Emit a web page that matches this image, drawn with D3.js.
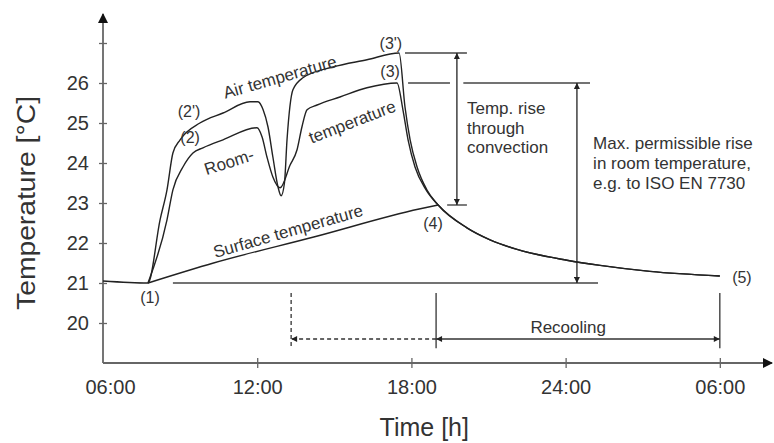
<!DOCTYPE html>
<html>
<head>
<meta charset="utf-8">
<script src="https://cdn.jsdelivr.net/npm/d3@7"></script>
<style>
body{margin:0;background:#fff}
svg{display:block;font-family:"Liberation Sans",Arial,sans-serif}
</style>
</head>
<body>
<div id="container"></div>
<script>
// time in hours (6 = 06:00, 30 = 06:00 next day), temperature in °C
const airTime = [6.0, 7.75, 8.22, 8.49, 8.72, 9.0, 9.77, 10.67, 11.72, 12.03, 12.23, 12.42, 12.61, 12.81, 12.93, 13.06, 13.16, 13.39, 13.78, 14.95, 16.27, 17.52, 17.75, 17.95, 18.22, 18.6, 19.04]
const airTemp = [21.05, 21.0, 22.58, 23.33, 24.25, 24.58, 25.0, 25.25, 25.53, 25.53, 25.33, 24.9, 24.15, 23.4, 23.18, 23.5, 24.58, 25.83, 26.13, 26.4, 26.58, 26.75, 25.4, 24.58, 23.9, 23.33, 22.95]

const roomTime = [7.75, 8.49, 8.72, 9.11, 9.5, 9.89, 10.67, 11.99, 12.19, 12.38, 12.61, 12.89, 13.28, 13.55, 13.74, 13.94, 14.33, 15.22, 16.27, 17.44, 17.67, 17.87, 18.14, 18.57, 19.04]
const roomTemp = [21.0, 22.58, 23.33, 23.9, 24.25, 24.38, 24.58, 24.88, 24.65, 24.15, 23.65, 23.38, 23.95, 24.33, 24.9, 25.33, 25.45, 25.65, 25.88, 26.0, 25.33, 24.58, 23.9, 23.33, 22.95]

const surfaceTime = [7.75, 10.3, 14.2, 18.3, 19.04]
const surfaceTemp = [21.0, 21.5, 22.15, 22.85, 22.95]

const coolTime = [19.04, 20.16, 21.06, 22.11, 24.05, 25.34, 27.28, 30.0]
const coolTemp = [22.95, 22.38, 22.08, 21.84, 21.57, 21.44, 21.29, 21.175]

const yTicks = [20, 21, 22, 23, 24, 25, 26, 27]
const xTicks = [6, 12, 18, 24, 30]
const xTickLabels = ["06:00", "12:00", "18:00", "24:00", "06:00"]

const pointLabels = [
  {text: "(1)", t: 7.83, v: 20.63},
  {text: "(2')", t: 9.35, v: 25.28},
  {text: "(2)", t: 9.39, v: 24.65},
  {text: "(3')", t: 17.2, v: 27.0},
  {text: "(3)", t: 17.17, v: 26.28},
  {text: "(4)", t: 18.84, v: 22.5},
  {text: "(5)", t: 30.86, v: 21.13}
]
const curveLabels = [
  {text: "Air temperature", t: 12.88, v: 26.15, angle: -16},
  {text: "Room-", t: 10.9, v: 24.03, angle: -18},
  {text: "temperature", t: 15.69, v: 25.03, angle: -21},
  {text: "Surface temperature", t: 13.2, v: 22.3, angle: -16}
]

const width = 774
const height = 443

const x = d3.scaleLinear().domain([6, 32.03]).range([103, 772])
const y = d3.scaleLinear().domain([19, 27.575]).range([363, 20])

const svg = d3.select("#container").append("svg")
  .attr("width", width)
  .attr("height", height)

const defs = svg.append("defs")
defs.append("marker")
  .attr("id", "head")
  .attr("viewBox", "0 0 10 10")
  .attr("refX", 10).attr("refY", 5)
  .attr("markerUnits", "userSpaceOnUse")
  .attr("markerWidth", 9).attr("markerHeight", 6)
  .attr("orient", "auto-start-reverse")
  .append("path").attr("d", "M0,0L10,5L0,10z").attr("fill", "#222")
defs.append("marker")
  .attr("id", "axhead")
  .attr("viewBox", "0 0 10 10")
  .attr("refX", 9).attr("refY", 5)
  .attr("markerUnits", "userSpaceOnUse")
  .attr("markerWidth", 13).attr("markerHeight", 10)
  .attr("orient", "auto")
  .append("path").attr("d", "M0,0L10,5L0,10z").attr("fill", "#111")

const ink = "#333"

// axes
const yAxis = svg.append("g")
  .attr("transform", `translate(${x(6)},0)`)
  .call(d3.axisLeft(y).tickValues(yTicks).tickFormat(d => d === 27 ? "" : d).tickSize(4).tickPadding(10))
yAxis.select(".domain").remove()
yAxis.selectAll(".tick line").attr("x1", -4).attr("x2", 4).attr("stroke", "#666").attr("stroke-width", 1.3)
yAxis.selectAll(".tick text").attr("font-size", 20).attr("fill", ink).attr("font-family", "Liberation Sans, Arial, sans-serif")

const xAxis = svg.append("g")
  .attr("transform", `translate(0,${y(19)})`)
  .call(d3.axisBottom(x).tickValues(xTicks).tickFormat((d, i) => xTickLabels[i]).tickSize(5).tickPadding(12))
xAxis.select(".domain").remove()
xAxis.selectAll(".tick line").attr("y1", -5).attr("y2", 5).attr("stroke", "#666").attr("stroke-width", 1.3)
xAxis.selectAll(".tick text").attr("font-size", 20).attr("fill", ink).attr("font-family", "Liberation Sans, Arial, sans-serif")
  .attr("dx", (d, i) => i === 0 ? 7 : 0)
xAxis.selectAll(".tick").filter(d => d === 6).select("line").remove()

svg.append("line")
  .attr("x1", x(6)).attr("y1", y(19)).attr("x2", x(6)).attr("y2", y(27.575) - 6)
  .attr("stroke", "#666").attr("stroke-width", 1.8).attr("marker-end", "url(#axhead)")
svg.append("line")
  .attr("x1", x(6)).attr("y1", y(19)).attr("x2", x(32.03)).attr("y2", y(19))
  .attr("stroke", "#666").attr("stroke-width", 1.8).attr("marker-end", "url(#axhead)")

svg.append("text")
  .attr("transform", `translate(35,${y(23)}) rotate(-90)`)
  .attr("text-anchor", "middle")
  .attr("font-size", 26)
  .attr("textLength", 214)
  .attr("lengthAdjust", "spacingAndGlyphs")
  .attr("fill", ink)
  .text("Temperature [°C]")
svg.append("text")
  .attr("x", x(18.5)).attr("y", 436)
  .attr("text-anchor", "middle")
  .attr("font-size", 25)
  .attr("fill", ink)
  .text("Time [h]")

// curves
const line = d3.line()
  .x(d => x(d[0]))
  .y(d => y(d[1]))
  .curve(d3.curveMonotoneX)

const air = airTime.map((t, i) => [t, airTemp[i]]).concat(coolTime.slice(1).map((t, i) => [t, coolTemp[i + 1]]))
const room = roomTime.map((t, i) => [t, roomTemp[i]]).concat(coolTime.slice(1).map((t, i) => [t, coolTemp[i + 1]]))
const surface = surfaceTime.map((t, i) => [t, surfaceTemp[i]])

svg.append("g")
  .selectAll("path")
  .data([air, room, surface])
  .enter()
  .append("path")
  .attr("d", line)
  .attr("fill", "none")
  .attr("stroke", "#222")
  .attr("stroke-width", 1.4)

// reference lines
const refLines = [
  [8.72, 21, 25.26, 21],
  [17.75, 26.75, 20.16, 26.75],
  [17.87, 26.0, 19.5, 26.0],
  [20.02, 26.0, 24.95, 26.0],
  [19.39, 22.95, 20.16, 22.95]
]
svg.append("g")
  .selectAll("line")
  .data(refLines)
  .enter()
  .append("line")
  .attr("x1", d => x(d[0])).attr("y1", d => y(d[1]))
  .attr("x2", d => x(d[2])).attr("y2", d => y(d[3]))
  .attr("stroke", "#444").attr("stroke-width", 1.4)

// double arrows
const dblArrows = [
  [19.77, 26.75, 19.77, 22.95],
  [24.44, 26.0, 24.44, 21.0]
]
svg.append("g")
  .selectAll("line")
  .data(dblArrows)
  .enter()
  .append("line")
  .attr("x1", d => x(d[0])).attr("y1", d => y(d[1]))
  .attr("x2", d => x(d[2])).attr("y2", d => y(d[3]))
  .attr("stroke", "#222").attr("stroke-width", 1.3)
  .attr("marker-start", "url(#head)").attr("marker-end", "url(#head)")

// bottom time span markers
const vBars = [
  {t: 13.32, dash: "4,3"},
  {t: 18.96, dash: null},
  {t: 30.0, dash: null}
]
svg.append("g")
  .selectAll("line")
  .data(vBars)
  .enter()
  .append("line")
  .attr("x1", d => x(d.t)).attr("x2", d => x(d.t))
  .attr("y1", y(20.75)).attr("y2", y(19.37))
  .attr("stroke", "#333").attr("stroke-width", 1.3)
  .attr("stroke-dasharray", d => d.dash)

svg.append("line")
  .attr("x1", x(18.96)).attr("x2", x(13.32))
  .attr("y1", y(19.6)).attr("y2", y(19.6))
  .attr("stroke", "#333").attr("stroke-width", 1.3)
  .attr("stroke-dasharray", "4,3")
  .attr("marker-end", "url(#head)")
svg.append("line")
  .attr("x1", x(18.96)).attr("x2", x(30.0))
  .attr("y1", y(19.6)).attr("y2", y(19.6))
  .attr("stroke", "#333").attr("stroke-width", 1.3)
  .attr("marker-start", "url(#head)").attr("marker-end", "url(#head)")

svg.append("text")
  .attr("x", x(24.1)).attr("y", y(19.6) - 6)
  .attr("text-anchor", "middle")
  .attr("font-size", 17)
  .attr("fill", ink)
  .text("Recooling")

// labels
svg.append("g")
  .selectAll("text")
  .data(pointLabels)
  .enter()
  .append("text")
  .attr("x", d => x(d.t)).attr("y", d => y(d.v))
  .attr("dy", "0.35em")
  .attr("text-anchor", "middle")
  .attr("font-size", 16)
  .attr("fill", ink)
  .text(d => d.text)

svg.append("g")
  .selectAll("text")
  .data(curveLabels)
  .enter()
  .append("text")
  .attr("transform", d => `translate(${x(d.t)},${y(d.v)}) rotate(${d.angle})`)
  .attr("dy", "0.35em")
  .attr("text-anchor", "middle")
  .attr("font-size", 17)
  .attr("fill", ink)
  .text(d => d.text)

const noteConv = ["Temp. rise", "through", "convection"]
const noteMax = ["Max. permissible rise", "in room temperature,", "e.g. to ISO EN 7730"]

svg.append("text")
  .attr("x", x(20.16)).attr("y", 114)
  .attr("font-size", 17).attr("fill", ink)
  .selectAll("tspan")
  .data(noteConv)
  .enter()
  .append("tspan")
  .attr("x", x(20.16))
  .attr("dy", (d, i) => i === 0 ? 0 : 19.5)
  .text(d => d)

svg.append("text")
  .attr("x", x(25.07)).attr("y", 149)
  .attr("font-size", 17).attr("fill", ink)
  .selectAll("tspan")
  .data(noteMax)
  .enter()
  .append("tspan")
  .attr("x", x(25.07))
  .attr("dy", (d, i) => i === 0 ? 0 : 20)
  .text(d => d)
</script>
</body>
</html>
